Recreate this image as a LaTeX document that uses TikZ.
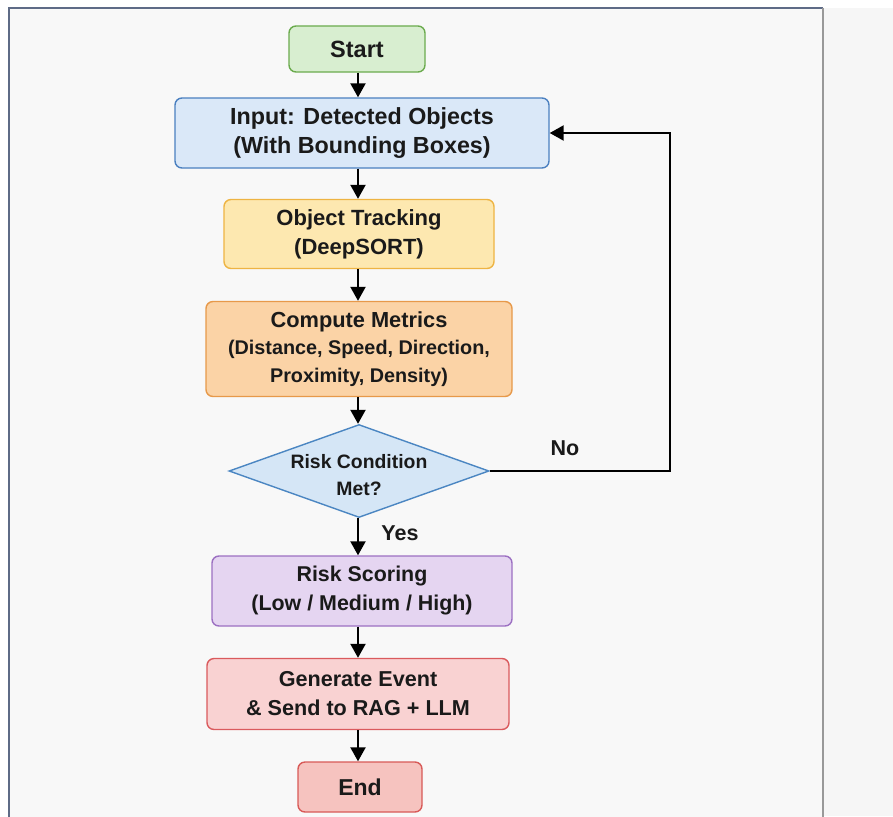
\documentclass[tikz,border=0pt]{standalone}
\usepackage{fontspec}
\setmainfont{Liberation Sans}
\usetikzlibrary{shapes.geometric,arrows.meta}
\definecolor{bgout}{HTML}{F6F6F6}
\definecolor{bgin}{HTML}{F8F8F8}
\definecolor{framec}{HTML}{5E6B86}
\definecolor{txt}{HTML}{1A1A1A}
\definecolor{startF}{HTML}{D8EED0}\definecolor{startD}{HTML}{6BAB4E}
\definecolor{inF}{HTML}{DAE8F8}\definecolor{inD}{HTML}{4B80C0}
\definecolor{trF}{HTML}{FDE8B0}\definecolor{trD}{HTML}{EEB443}
\definecolor{meF}{HTML}{FBD3A6}\definecolor{meD}{HTML}{E7994A}
\definecolor{deF}{HTML}{D5E6F6}\definecolor{deD}{HTML}{4B86C2}
\definecolor{scF}{HTML}{E5D5F1}\definecolor{scD}{HTML}{9C70C2}
\definecolor{geF}{HTML}{F9D2D2}\definecolor{geD}{HTML}{DA5A5D}
\definecolor{enF}{HTML}{F6C3BF}\definecolor{enD}{HTML}{D85A58}
\tikzset{
  box/.style={rectangle, rounded corners=7pt, line width=1.4pt, align=center,
    inner sep=0pt, text=txt, font=\fontsize{22}{29}\selectfont\bfseries},
  fs/.style={font=\fontsize{#1}{29}\selectfont\bfseries},
  flow/.style={line width=2.2pt, -{Triangle[length=14pt,width=15pt]}},
  lbl/.style={text=txt, font=\fontsize{21.5}{26}\selectfont\bfseries}
}
\begin{document}
\begin{tikzpicture}[x=1pt,y=-1pt]
\useasboundingbox (0,0) rectangle (893,816);
\fill[white] (0,0) rectangle (893,816);
\fill[bgout] (823,8) rectangle (893,816);
\fill[bgin] (9,8) rectangle (823,830);
\draw[framec, line width=1.2pt] (9,830) -- (9,8) -- (823,8);
\draw[gray!80, line width=2pt] (823,8) -- (823,830);

\node[box, fs=23.5, fill=startF, draw=startD, minimum width=136pt, minimum height=46pt] (start) at (357,49) {Start};
\node[box, fs=23.3, fill=inF, draw=inD, minimum width=374pt, minimum height=70pt] (input) at (362,133) {Input: Detected Objects\\(With Bounding Boxes)};
\node[box, fs=22, fill=trF, draw=trD, minimum width=270pt, minimum height=69pt] (track) at (359,234) {Object Tracking\\(DeepSORT)};
\node[box, font=\fontsize{19.8}{27.5}\selectfont\bfseries, fill=meF, draw=meD, minimum width=306pt, minimum height=95pt] (metrics) at (359,349) {{\fontsize{21.8}{27.5}\selectfont Compute Metrics}\\(Distance, Speed, Direction,\\Proximity, Density)};
\node[diamond, line width=1.4pt, fill=deF, draw=deD, minimum width=260pt, minimum height=93pt, inner sep=0pt,
  label={[lbl, align=center, font=\fontsize{19.4}{27}\selectfont\bfseries, yshift=-4pt]center:Risk Condition\\Met?}] (dec) at (359,471) {};
\node[box, fs=21.4, fill=scF, draw=scD, minimum width=300pt, minimum height=70pt] (score) at (362,591) {Risk Scoring\\(Low / Medium / High)};
\node[box, fs=21.6, fill=geF, draw=geD, minimum width=302pt, minimum height=71pt] (gen) at (358,694) {Generate Event\\\& Send to RAG + LLM};
\node[box, fs=23, fill=enF, draw=enD, minimum width=124pt, minimum height=50pt] (end) at (360,787) {End};

\coordinate (loop) at (670,300);
\node[lbl] (no) at (565,448) {No};
\node[lbl] (yes) at (400,533) {Yes};

\draw[flow] (start.south -| 358,0) -- (input.north -| 358,0);
\draw[flow] (input.south -| 358,0) -- (track.north -| 358,0);
\draw[flow] (track.south -| 358,0) -- (metrics.north -| 358,0);
\draw[flow] (metrics.south -| 358,0) -- (dec.north -| 358,0);
\draw[flow] (dec.south -| 358,0) -- (score.north -| 358,0);
\draw[flow] (score.south -| 358,0) -- (gen.north -| 358,0);
\draw[flow] (gen.south -| 358,0) -- (end.north -| 358,0);
\draw[flow] (dec.east) -| (loop) |- (input.east);
\end{tikzpicture}
\end{document}
